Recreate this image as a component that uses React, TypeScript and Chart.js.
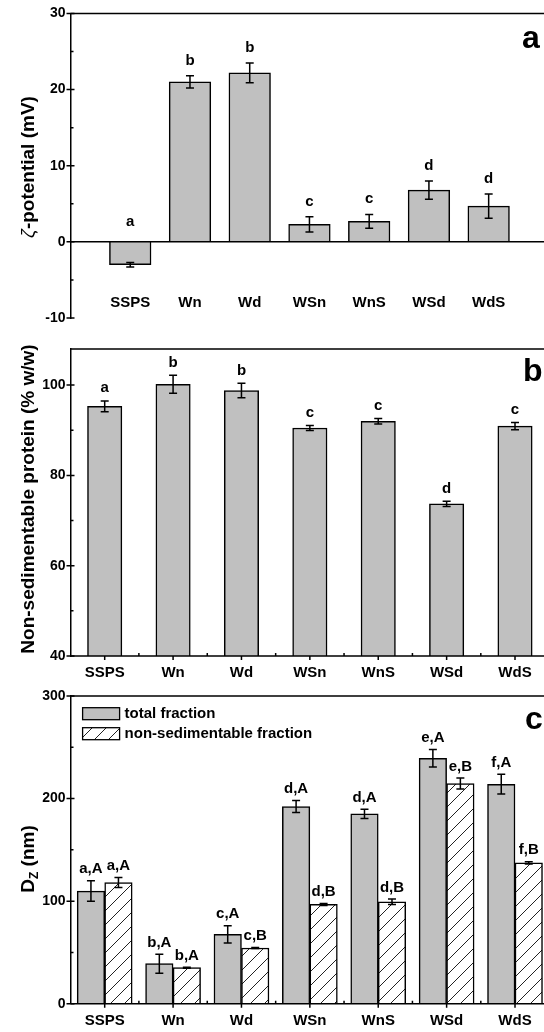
import React, { useEffect, useRef } from 'react';
import { Chart, registerables } from 'chart.js';

Chart.register(...registerables);

const FAMILY = "'Liberation Sans', Arial, Helvetica, sans-serif";

// ---------- data ----------
const categories = ['SSPS', 'Wn', 'Wd', 'WSn', 'WnS', 'WSd', 'WdS'];

// panel a: zeta potential (mV)
const zetaValues = [-3.0, 21.0, 22.2, 2.3, 2.7, 6.8, 4.7];
const zetaErrors = [0.3, 0.8, 1.3, 1.0, 0.9, 1.2, 1.6];
const zetaLetters = ['a', 'b', 'b', 'c', 'c', 'd', 'd'];
const zetaTicks = [-10, 0, 10, 20, 30];
const zetaMinor = [-5, 5, 15, 25];

// panel b: non-sedimentable protein (% w/w)
const nonSedValues = [95.3, 100.2, 98.8, 90.5, 92.0, 73.7, 90.9];
const nonSedErrors = [1.2, 2.0, 1.6, 0.55, 0.6, 0.6, 0.8];
const nonSedLetters = ['a', 'b', 'b', 'c', 'c', 'd', 'c'];
const nonSedTicks = [40, 60, 80, 100];
const nonSedMinor = [50, 70, 90];

// panel c: Dz (nm)
const totalDz = [109.8, 39.0, 67.6, 192.3, 185.1, 239.3, 214.0];
const totalDzErrors = [10.0, 9.3, 8.3, 5.9, 4.5, 8.5, 9.6];
const totalDzLetters = ['a,A', 'b,A', 'c,A', 'd,A', 'd,A', 'e,A', 'f,A'];
const nonSedDz = [118.2, 35.1, 54.3, 96.8, 99.4, 214.7, 137.3];
const nonSedDzErrors = [4.8, 0.5, 0.5, 1.0, 2.6, 5.3, 1.0];
const nonSedDzLetters = ['a,A', 'b,A', 'c,B', 'd,B', 'd,B', 'e,B', 'f,B'];
const dzTicks = [0, 100, 200, 300];
const dzMinor = [50, 150, 250];
const legendLabels = ['total fraction', 'non-sedimentable fraction'];

// ---------- helpers ----------
const GREY = '#c0c0c0';
const LEFT = 70.5;

function makeHatch(): CanvasPattern | string {
  const s = 14;
  const c = document.createElement('canvas');
  c.width = s;
  c.height = s;
  const g = c.getContext('2d');
  if (!g) return '#fff';
  g.fillStyle = '#fff';
  g.fillRect(0, 0, s, s);
  g.strokeStyle = '#222';
  g.lineWidth = 1;
  g.beginPath();
  g.moveTo(0, s);
  g.lineTo(s, 0);
  g.moveTo(-s / 2, s / 2);
  g.lineTo(s / 2, -s / 2);
  g.moveTo(s / 2, s * 1.5);
  g.lineTo(s * 1.5, s / 2);
  g.stroke();
  return g.createPattern(c, 'repeat') || '#fff';
}

type TitlePart = { text: string; font: string; dv: number };
type PanelCfg = {
  errors: number[][];
  letters: string[][];
  letterGap: number;
  idxOffset: number;
  yMajor: number[];
  yMinor: number[];
  xLabelInside: boolean;
  xLabelDy: number;
  xAxisTicks: boolean;
  zeroLine: boolean;
  bottomFrame: boolean;
  panelLetter: string;
  letterX: number;
  letterBaseline: number;
  titleParts: TitlePart[];
  titleX: number;
  titleY: number;
  legend?: { x: number; y: number };
};

function makeDecor(cfg: PanelCfg) {
  return {
    id: 'decor',
    afterDraw(chart: any) {
      const ctx: CanvasRenderingContext2D = chart.ctx;
      const area = chart.chartArea;
      const xs = chart.scales.x;
      const ys = chart.scales.y;
      ctx.save();
      ctx.strokeStyle = '#000';
      ctx.fillStyle = '#000';
      ctx.lineWidth = 1.5;

      // frame
      ctx.beginPath();
      ctx.moveTo(area.left, area.top);
      ctx.lineTo(area.right, area.top);
      ctx.lineTo(area.right, area.bottom);
      if (cfg.bottomFrame) ctx.lineTo(area.left, area.bottom);
      ctx.stroke();

      if (cfg.zeroLine) {
        const y0 = ys.getPixelForValue(0);
        ctx.beginPath();
        ctx.moveTo(area.left, y0);
        ctx.lineTo(area.right, y0);
        ctx.stroke();
      }

      // y ticks
      ctx.beginPath();
      cfg.yMajor.forEach((v) => {
        const y = ys.getPixelForValue(v);
        ctx.moveTo(area.left - 4, y);
        ctx.lineTo(area.left + 4, y);
        ctx.moveTo(area.right - 4, y);
        ctx.lineTo(area.right, y);
      });
      cfg.yMinor.forEach((v) => {
        const y = ys.getPixelForValue(v);
        ctx.moveTo(area.left, y);
        ctx.lineTo(area.left + 3, y);
        ctx.moveTo(area.right - 3, y);
        ctx.lineTo(area.right, y);
      });
      ctx.stroke();

      // x labels and ticks
      ctx.font = `bold 15px ${FAMILY}`;
      ctx.textAlign = 'center';
      ctx.textBaseline = 'middle';
      const n = categories.length;
      const step = xs.getPixelForValue(cfg.idxOffset + 1) - xs.getPixelForValue(cfg.idxOffset);
      ctx.beginPath();
      categories.forEach((cat, i) => {
        const x = xs.getPixelForValue(i + cfg.idxOffset);
        const y = cfg.xLabelInside ? area.bottom - cfg.xLabelDy : area.bottom + cfg.xLabelDy;
        ctx.fillText(cat, x, y);
        if (cfg.xAxisTicks) {
          ctx.moveTo(x, area.bottom);
          ctx.lineTo(x, area.bottom + 4);
          if (i < n - 1 || true) {
            const xb = x + step / 2;
            ctx.moveTo(xb, area.bottom);
            ctx.lineTo(xb, area.bottom - 3);
          }
        }
      });
      ctx.stroke();

      // error bars + letters
      chart.data.datasets.forEach((ds: any, di: number) => {
        const meta = chart.getDatasetMeta(di);
        meta.data.forEach((el: any, j: number) => {
          const i = j - cfg.idxOffset;
          if (i < 0 || i >= n) return;
          const v = ds.data[j];
          if (v === null || v === undefined) return;
          const e = cfg.errors[di][i];
          const yt = ys.getPixelForValue(v + e);
          const yb = ys.getPixelForValue(v - e);
          const x = el.x;
          ctx.lineWidth = 1.5;
          ctx.beginPath();
          ctx.moveTo(x, yt);
          ctx.lineTo(x, yb);
          ctx.moveTo(x - 4, yt);
          ctx.lineTo(x + 4, yt);
          ctx.moveTo(x - 4, yb);
          ctx.lineTo(x + 4, yb);
          ctx.stroke();
          const ref = v >= 0 ? yt : ys.getPixelForValue(0) - 5;
          ctx.textBaseline = 'alphabetic';
          ctx.fillText(cfg.letters[di][i], x, ref - cfg.letterGap);
        });
      });

      // legend
      if (cfg.legend) {
        chart.data.datasets.forEach((ds: any, di: number) => {
          const bx = cfg.legend!.x;
          const by = cfg.legend!.y + di * 20;
          ctx.fillStyle = ds.backgroundColor;
          ctx.fillRect(bx, by, 37, 12);
          ctx.lineWidth = 1.3;
          ctx.strokeRect(bx, by, 37, 12);
          ctx.fillStyle = '#000';
          ctx.font = `bold 15px ${FAMILY}`;
          ctx.textAlign = 'left';
          ctx.textBaseline = 'middle';
          ctx.fillText(ds.label, bx + 42, by + 6.5);
        });
      }

      // panel letter
      ctx.fillStyle = '#000';
      ctx.font = `bold 32px ${FAMILY}`;
      ctx.textAlign = 'left';
      ctx.textBaseline = 'alphabetic';
      ctx.fillText(cfg.panelLetter, cfg.letterX, cfg.letterBaseline);

      // y title (rotated)
      ctx.translate(cfg.titleX, cfg.titleY);
      ctx.rotate(-Math.PI / 2);
      let total = 0;
      cfg.titleParts.forEach((p) => {
        ctx.font = p.font;
        total += ctx.measureText(p.text).width;
      });
      let u = -total / 2;
      ctx.textAlign = 'left';
      cfg.titleParts.forEach((p) => {
        ctx.font = p.font;
        ctx.fillText(p.text, u, 7 + p.dv);
        u += ctx.measureText(p.text).width;
      });
      ctx.restore();
    },
  };
}

function yAxis(min: number, max: number, ticks: number[]) {
  return {
    min,
    max,
    afterBuildTicks: (s: any) => {
      s.ticks = ticks.map((v) => ({ value: v }));
    },
    afterFit: (s: any) => {
      s.width = LEFT;
    },
    ticks: { font: { family: FAMILY, size: 14, weight: 'bold' }, color: '#000', padding: 5 },
    grid: { display: false, drawTicks: false },
    border: { display: true, color: '#000', width: 1.5 },
  };
}

const baseOpts = (padding: any) => ({
  responsive: false,
  animation: false,
  layout: { padding },
  plugins: { legend: { display: false }, tooltip: { enabled: false } },
});

function cfgA(): any {
  return {
    type: 'bar',
    data: {
      labels: ['', ...categories, ''],
      datasets: [
        {
          label: 'zeta',
          data: [null, ...zetaValues, null],
          backgroundColor: GREY,
          borderColor: '#000',
          borderWidth: 1.5,
          barThickness: 41.6,
        },
      ],
    },
    options: {
      ...baseOpts({ top: 11, bottom: 22, left: 0, right: 11.6 }),
      scales: {
        x: { type: 'category', display: false, offset: false, grid: { display: false } },
        y: yAxis(-10, 30, zetaTicks),
      },
    },
    plugins: [
      makeDecor({
        errors: [zetaErrors],
        letters: [zetaLetters],
        letterGap: 11,
        idxOffset: 1,
        yMajor: zetaTicks,
        yMinor: zetaMinor,
        xLabelInside: true,
        xLabelDy: 15,
        xAxisTicks: false,
        zeroLine: true,
        bottomFrame: false,
        panelLetter: 'a',
        letterX: 522,
        letterBaseline: 48,
        titleParts: [
          { text: 'ζ', font: `italic 19px ${FAMILY}`, dv: 0 },
          { text: '-potential (mV)', font: `bold 19px ${FAMILY}`, dv: 0 },
        ],
        titleX: 27,
        titleY: 167,
      }),
    ],
  };
}

function cfgB(): any {
  return {
    type: 'bar',
    data: {
      labels: categories,
      datasets: [
        {
          label: 'non-sedimentable protein',
          data: nonSedValues,
          backgroundColor: GREY,
          borderColor: '#000',
          borderWidth: 1.5,
          barThickness: 34.4,
        },
      ],
    },
    options: {
      ...baseOpts({ top: 19, bottom: 34, left: 0, right: 10.8 }),
      scales: {
        x: { type: 'category', display: false, offset: true, grid: { display: false } },
        y: yAxis(40, 108, nonSedTicks),
      },
    },
    plugins: [
      makeDecor({
        errors: [nonSedErrors],
        letters: [nonSedLetters],
        letterGap: 8.5,
        idxOffset: 0,
        yMajor: nonSedTicks,
        yMinor: nonSedMinor,
        xLabelInside: false,
        xLabelDy: 17,
        xAxisTicks: true,
        zeroLine: false,
        bottomFrame: true,
        panelLetter: 'b',
        letterX: 523,
        letterBaseline: 50.7,
        titleParts: [{ text: 'Non-sedimentable protein (% w/w)', font: `bold 19px ${FAMILY}`, dv: 0 }],
        titleX: 27,
        titleY: 169,
      }),
    ],
  };
}

function cfgC(): any {
  return {
    type: 'bar',
    data: {
      labels: categories,
      datasets: [
        {
          label: legendLabels[0],
          data: totalDz,
          backgroundColor: GREY,
          borderColor: '#000',
          borderWidth: 1.5,
          barThickness: 27.5,
        },
        {
          label: legendLabels[1],
          data: nonSedDz,
          backgroundColor: makeHatch(),
          borderColor: '#000',
          borderWidth: 1.5,
          barThickness: 27.5,
        },
      ],
    },
    options: {
      ...baseOpts({ top: 16, bottom: 28.3, left: 0, right: 10.8 }),
      scales: {
        x: { type: 'category', display: false, offset: true, grid: { display: false } },
        y: yAxis(0, 300, dzTicks),
      },
    },
    plugins: [
      makeDecor({
        errors: [totalDzErrors, nonSedDzErrors],
        letters: [totalDzLetters, nonSedDzLetters],
        letterGap: 7.5,
        idxOffset: 0,
        yMajor: dzTicks,
        yMinor: dzMinor,
        xLabelInside: false,
        xLabelDy: 17,
        xAxisTicks: true,
        zeroLine: false,
        bottomFrame: true,
        panelLetter: 'c',
        letterX: 525,
        letterBaseline: 49,
        titleParts: [
          { text: 'D', font: `bold 19px ${FAMILY}`, dv: 0 },
          { text: 'Z', font: `bold 12px ${FAMILY}`, dv: 4 },
          { text: ' (nm)', font: `bold 19px ${FAMILY}`, dv: 0 },
        ],
        titleX: 27,
        titleY: 179,
        legend: { x: 82.6, y: 27.7 },
      }),
    ],
  };
}

export default function App() {
  const refA = useRef<HTMLCanvasElement>(null);
  const refB = useRef<HTMLCanvasElement>(null);
  const refC = useRef<HTMLCanvasElement>(null);

  useEffect(() => {
    const charts: Chart[] = [];
    if (refA.current) charts.push(new Chart(refA.current, cfgA()));
    if (refB.current) charts.push(new Chart(refB.current, cfgB()));
    if (refC.current) charts.push(new Chart(refC.current, cfgC()));
    return () => charts.forEach((c) => c.destroy());
  }, []);

  const cs = (top: number, h: number): React.CSSProperties => ({
    position: 'absolute',
    left: 0,
    top,
    width: 560,
    height: h,
  });

  return (
    <div
      style={{
        position: 'fixed',
        left: 0,
        top: 0,
        width: 544,
        height: 1032,
        overflow: 'hidden',
        background: '#fff',
      }}
    >
      <canvas ref={refA} width={560} height={340} style={cs(0, 340)} />
      <canvas ref={refB} width={560} height={360} style={cs(330, 360)} />
      <canvas ref={refC} width={560} height={352} style={cs(680, 352)} />
    </div>
  );
}
